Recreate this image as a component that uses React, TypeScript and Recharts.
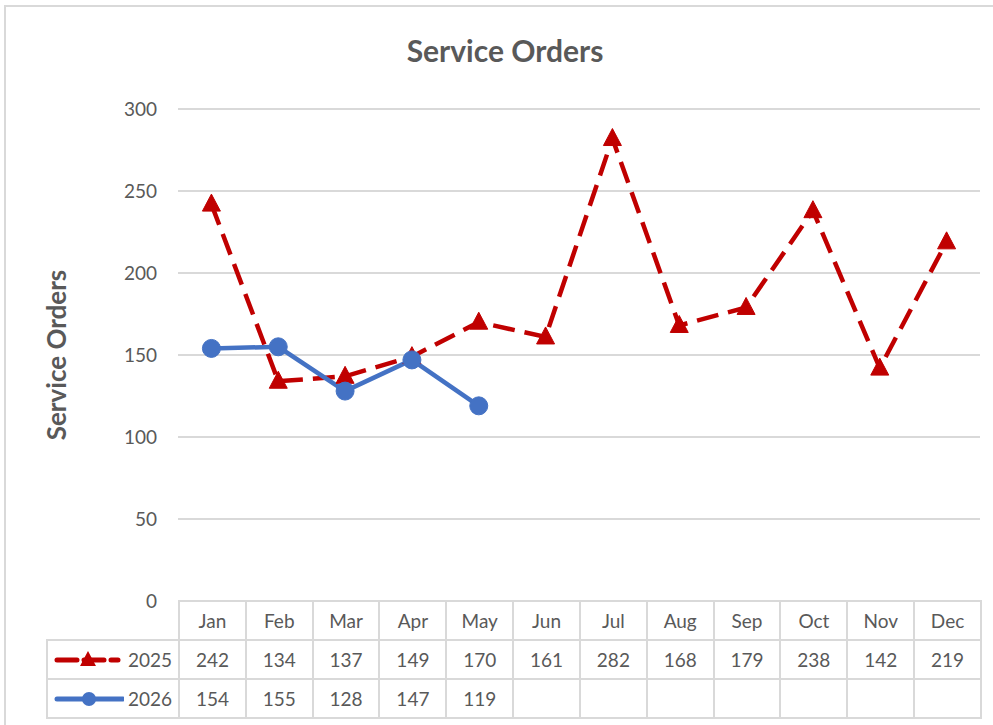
import React from 'react';
import { LineChart, Line, XAxis, YAxis, CartesianGrid } from 'recharts';

const months = ['Jan', 'Feb', 'Mar', 'Apr', 'May', 'Jun', 'Jul', 'Aug', 'Sep', 'Oct', 'Nov', 'Dec'];
const orders2025 = [242, 134, 137, 149, 170, 161, 282, 168, 179, 238, 142, 219];
const orders2026 = [154, 155, 128, 147, 119];
const yTicks = [0, 50, 100, 150, 200, 250, 300];

const RED = '#C00000';
const BLUE = '#4472C4';
const TEXT = '#595959';
const GRID = '#D9D9D9';
const FONT = 'Lato, "Noto Sans", sans-serif';

const W = 993;
const H = 725;
const PLOT_LEFT = 178;
const PLOT_RIGHT = 980;
const PLOT_TOP = 109;
const PLOT_BOTTOM = 601;
const Y_AXIS_W = 60;
const COL_W = (PLOT_RIGHT - PLOT_LEFT) / months.length;
const ROW_H = 39;
const LEGEND_LEFT = 46;

const data = months.map((m, i) => ({
  month: m,
  y2025: orders2025[i],
  y2026: i < orders2026.length ? orders2026[i] : null,
}));

const Triangle = (props: any) => {
  const { cx, cy, index } = props;
  if (cx == null || cy == null) return null;
  return (
    <polygon
      key={`tri-${index}`}
      points={`${cx},${cy - 10} ${cx + 9},${cy + 7} ${cx - 9},${cy + 7}`}
      fill={RED}
      stroke={RED}
      strokeWidth={1}
    />
  );
};

const cellStyle: React.CSSProperties = {
  border: `2px solid ${GRID}`,
  width: COL_W,
  height: ROW_H,
  padding: 0,
  textAlign: 'center',
  color: TEXT,
  fontSize: 19,
  boxSizing: 'border-box',
};

function Key({ year }: { year: string }) {
  return (
    <td style={{ ...cellStyle, width: PLOT_LEFT - LEGEND_LEFT, textAlign: 'left' }}>
      <div style={{ display: 'flex', alignItems: 'center', height: ROW_H - 4 }}>
        <svg width={70} height={24} style={{ marginLeft: 6 }}>
          {year === '2025' ? (
            <>
              <line x1={3} y1={12} x2={64} y2={12} stroke={RED} strokeWidth={5} strokeDasharray="20 7" strokeLinecap="round" />
              <polygon points="34,3 42,18 26,18" fill={RED} />
            </>
          ) : (
            <>
              <line x1={3} y1={12} x2={69} y2={12} stroke={BLUE} strokeWidth={5} strokeLinecap="round" />
              <circle cx={35} cy={12} r={7} fill={BLUE} />
            </>
          )}
        </svg>
        <span style={{ marginLeft: 'auto', marginRight: 6 }}>{year}</span>
      </div>
    </td>
  );
}

export default function App() {
  return (
    <div style={{ position: 'fixed', left: 0, top: 0, width: W, height: H, background: '#fff', fontFamily: FONT, overflow: 'hidden' }}>
      <div style={{ position: 'absolute', left: 4, top: 5, width: W + 20, height: H + 20, border: `2px solid ${GRID}`, boxSizing: 'border-box' }} />
      <div style={{ position: 'absolute', left: 0, width: PLOT_LEFT + PLOT_RIGHT - 148, top: 32, textAlign: 'center', fontSize: 30, fontWeight: 700, color: TEXT }}>
        Service Orders
      </div>
      <div style={{ position: 'absolute', left: 0, top: 0 }}>
        <LineChart
          width={W}
          height={H}
          data={data}
          margin={{ top: PLOT_TOP, right: W - PLOT_RIGHT, bottom: H - PLOT_BOTTOM, left: PLOT_LEFT - Y_AXIS_W }}
        >
          <CartesianGrid vertical={false} stroke={GRID} strokeWidth={2} />
          <XAxis dataKey="month" hide padding={{ left: COL_W / 2, right: COL_W / 2 }} />
          <YAxis
            width={Y_AXIS_W}
            domain={[0, 300]}
            ticks={yTicks}
            axisLine={false}
            tickLine={false}
            tickMargin={15}
            tick={{ fill: TEXT, fontSize: 19, fontFamily: FONT }}
            label={{
              content: (p: any) => (
                <text
                  x={p.viewBox.x - 62}
                  y={p.viewBox.y + p.viewBox.height / 2}
                  transform={`rotate(-90 ${p.viewBox.x - 62} ${p.viewBox.y + p.viewBox.height / 2})`}
                  textAnchor="middle"
                  dominantBaseline="central"
                  fill={TEXT}
                  fontSize={26}
                  fontWeight={700}
                  fontFamily={FONT}
                >
                  Service Orders
                </text>
              ),
            }}
          />
          <Line
            dataKey="y2025"
            stroke={RED}
            strokeWidth={4.5}
            strokeDasharray="22 10"
            dot={<Triangle />}
            isAnimationActive={false}
          />
          <Line
            dataKey="y2026"
            stroke={BLUE}
            strokeWidth={4.5}
            dot={{ r: 9, fill: BLUE, stroke: BLUE, strokeWidth: 1 }}
            isAnimationActive={false}
          />
        </LineChart>
      </div>
      <table
        style={{
          position: 'absolute',
          left: LEGEND_LEFT,
          top: PLOT_BOTTOM - 1,
          borderCollapse: 'collapse',
          tableLayout: 'fixed',
          width: PLOT_RIGHT - LEGEND_LEFT + 2,
          fontFamily: FONT,
        }}
      >
        <tbody>
          <tr>
            <td style={{ ...cellStyle, border: 'none', width: PLOT_LEFT - LEGEND_LEFT }} />
            {months.map((m) => (
              <td key={m} style={cellStyle}>{m}</td>
            ))}
          </tr>
          <tr>
            <Key year="2025" />
            {months.map((m, i) => (
              <td key={m} style={cellStyle}>{orders2025[i]}</td>
            ))}
          </tr>
          <tr>
            <Key year="2026" />
            {months.map((m, i) => (
              <td key={m} style={cellStyle}>{i < orders2026.length ? orders2026[i] : ''}</td>
            ))}
          </tr>
        </tbody>
      </table>
    </div>
  );
}
